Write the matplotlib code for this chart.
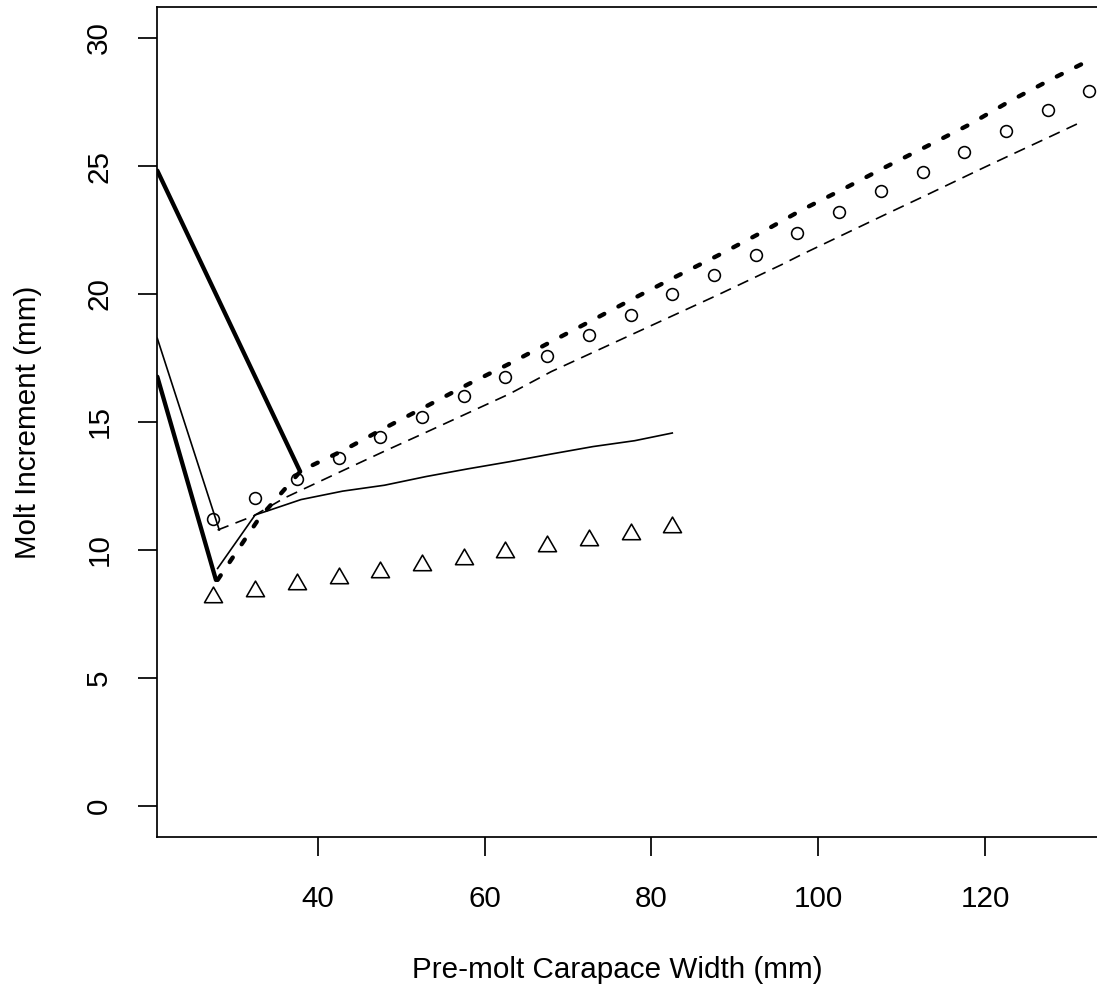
import numpy as np
import matplotlib
matplotlib.use("Agg")
import matplotlib.pyplot as plt
from matplotlib.path import Path

plt.rcParams['font.family'] = ['Liberation Sans', 'DejaVu Sans']

# ---------------- data ----------------
circle_x = [27.5, 32.5, 37.5, 42.5, 47.5, 52.5, 57.5, 62.5, 67.5, 72.5, 77.5,
            82.5, 87.5, 92.5, 97.5, 102.5, 107.5, 112.5, 117.5, 122.5, 127.5, 132.5]
circle_y = [11.20, 12.02, 12.77, 13.58, 14.40, 15.21, 16.02, 16.77, 17.58, 18.39, 19.19,
            20.00, 20.75, 21.54, 22.39, 23.19, 24.01, 24.75, 25.56, 26.38, 27.19, 27.94]

tri_x = [27.5, 32.5, 37.5, 42.5, 47.5, 52.5, 57.5, 62.5, 67.5, 72.5, 77.5, 82.5]
tri_y = [8.15, 8.41, 8.66, 8.91, 9.15, 9.41, 9.65, 9.91, 10.14, 10.39, 10.64, 10.89]

# thin solid curve (small size range)
thin_x = [28, 32.5, 34, 38, 43, 48, 53, 58, 63, 68, 73, 78, 82.5]
thin_y = [9.28, 11.37, 11.53, 11.97, 12.30, 12.53, 12.87, 13.17, 13.45, 13.75, 14.04, 14.27, 14.57]

# thin dashed curve
dash_x = [28, 32.3, 36, 43, 48, 53, 58, 63, 68, 73, 78, 83, 88, 95.5, 98, 103,
          108, 113, 119.6, 123, 128, 131]
dash_y = [10.78, 11.33, 12.03, 13.10, 13.86, 14.60, 15.35, 16.10, 16.97, 17.72, 18.47,
          19.22, 19.97, 21.13, 21.54, 22.32, 23.10, 23.87, 24.90, 25.42, 26.18, 26.64]

# thick dotted curve
dot_x = [28, 33, 38, 43, 48, 53, 58, 63, 68, 73, 78, 83, 88, 93, 98, 103, 108,
         113, 118, 123, 128, 132]
dot_y = [8.83, 11.25, 13.10, 13.88, 14.76, 15.61, 16.47, 17.28, 18.14, 18.99, 19.85,
         20.69, 21.51, 22.37, 23.28, 24.10, 24.95, 25.77, 26.60, 27.54, 28.40, 29.05]

# straight segments coming in from the left edge
segA_x = [20.77, 37.9]
segA_y = [24.82, 13.06]
segB_x = [20.77, 27.8]
segB_y = [16.77, 8.83]
segC_x = [20.77, 28.2]
segC_y = [18.27, 10.78]

x_ticks = [40, 60, 80, 100, 120]
y_ticks = [0, 5, 10, 15, 20, 25, 30]
x_label = "Pre-molt Carapace Width (mm)"
y_label = "Molt Increment (mm)"

# ---------------- figure ----------------
W, H = 1097, 994
fig = plt.figure(figsize=(W / 100, H / 100), dpi=100)
L, R, T, B = 157.3, 1097.0, 7.3, 836.7
ax = fig.add_axes([L / W, 1 - B / H, (R - L) / W, (B - T) / H])
ax.set_xlim(20.77, 133.41)
ax.set_ylim(-1.2, 31.2)

thin = 1.2
thick = 3.1
fs = 21.3

ax.plot(segA_x, segA_y, color='black', lw=thick, solid_capstyle='round')
ax.plot(segB_x, segB_y, color='black', lw=thick, solid_capstyle='round')
ax.plot(segC_x, segC_y, color='black', lw=thin)
ax.plot(thin_x, thin_y, color='black', lw=thin)
ax.plot(dash_x, dash_y, color='black', lw=thin, linestyle=(0, (7, 4.5)))
ax.plot(dot_x, dot_y, color='black', lw=thick, linestyle=(0, (1.3, 3.7)),
        dash_capstyle='round')

ax.plot(circle_x, circle_y, linestyle='none', marker='o', markersize=8.5,
        markerfacecolor='none', markeredgecolor='black', markeredgewidth=1.15)

tri_path = Path([[0, 1], [-0.8660254, -0.5], [0.8660254, -0.5], [0, 1]],
                [Path.MOVETO, Path.LINETO, Path.LINETO, Path.CLOSEPOLY])
ax.plot(tri_x, tri_y, linestyle='none', marker=tri_path, markersize=15.0,
        markerfacecolor='none', markeredgecolor='black', markeredgewidth=1.15)

for s in ['left', 'bottom', 'top']:
    ax.spines[s].set_linewidth(1.25)
ax.spines['right'].set_visible(False)

ax.set_xticks(x_ticks)
ax.set_yticks(y_ticks)
ax.tick_params(axis='both', direction='out', length=13.7, width=1.25,
               labelsize=fs, colors='black')
ax.tick_params(axis='x', pad=21)
ax.tick_params(axis='y', pad=18, labelrotation=90)
for lab in ax.get_yticklabels():
    lab.set_va('center')

fig.text(617 / W, 1 - 970 / H, x_label, ha='center', va='center', fontsize=fs)
fig.text(28 / W, 1 - 422 / H, y_label, ha='center', va='center', rotation=90,
         fontsize=fs)

fig.savefig("out.png", dpi=100, facecolor='white')
